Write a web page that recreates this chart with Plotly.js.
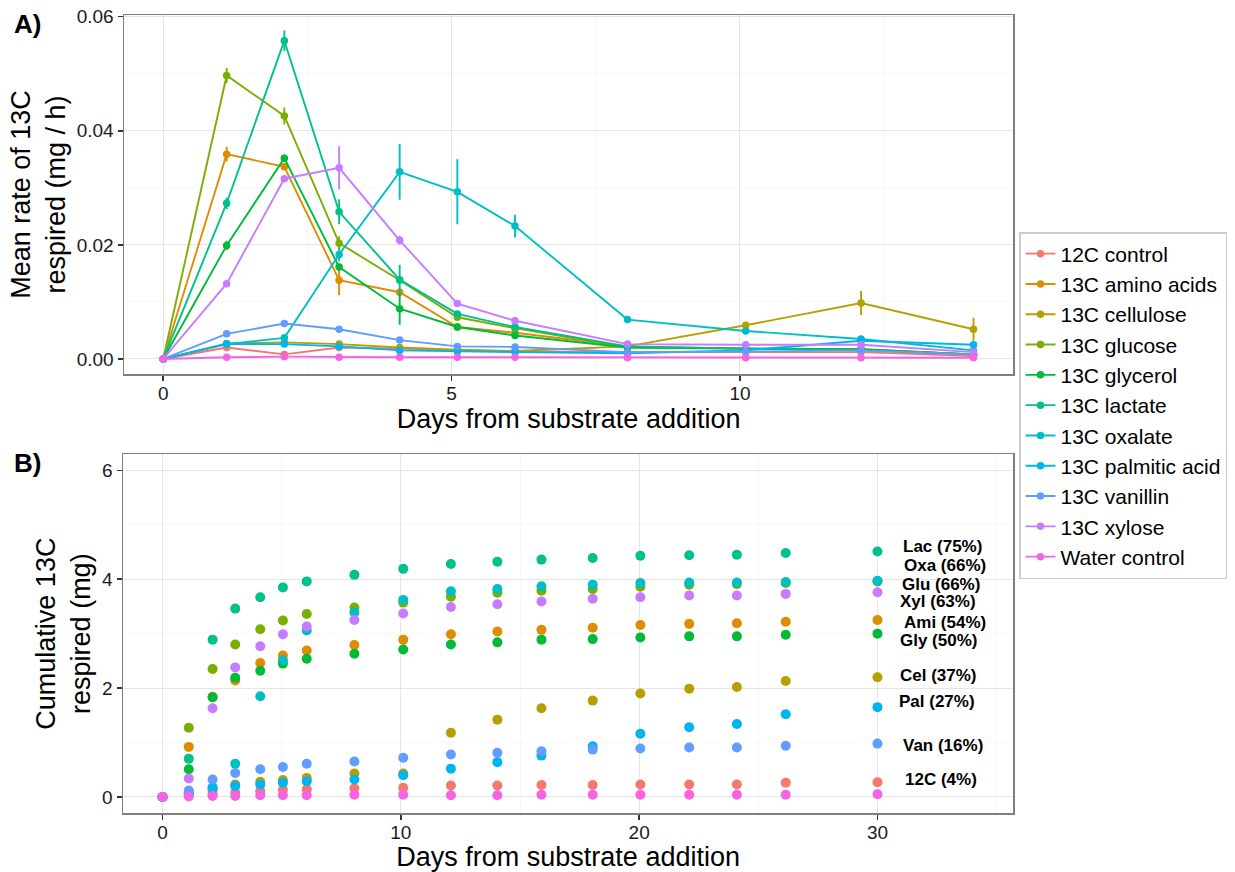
<!DOCTYPE html>
<html>
<head>
<meta charset="utf-8">
<script src="https://cdn.plot.ly/plotly-3.0.1.min.js"></script>
<style>html,body{margin:0;padding:0;background:#fff;}#chart{width:1235px;height:872px;}</style>
</head>
<body>
<div id="chart"></div>
<script>
// ---------- Data ----------
const seriesNames = ["12C control","13C amino acids","13C cellulose","13C glucose","13C glycerol","13C lactate","13C oxalate","13C palmitic acid","13C vanillin","13C xylose","Water control"];
const seriesColors = ["#F8766D","#DE8C00","#B79F00","#7CAE00","#00BA38","#00C08B","#00BFC4","#00B4F0","#619CFF","#C77CFF","#F564E3"];

// Panel A: mean rate of 13C respired (mg / h)
const daysA = [0, 1.1, 2.1, 3.05, 4.1, 5.1, 6.1, 8.05, 10.1, 12.1, 14.05];
const rateControl12C = [0, 0.0020, 0.0008, 0.0020, 0.0018, 0.0015, 0.0013, 0.0012, 0.0012, 0.0012, 0.0005];
const rateAmino      = [0, 0.0359, 0.0337, 0.0138, 0.0117, 0.0056, 0.0046, 0.0022, 0.0018, 0.0017, 0.0008];
const rateCellulose  = [0, 0.0027, 0.0029, 0.0026, 0.0020, 0.0016, 0.0014, 0.0022, 0.0059, 0.0098, 0.0052];
const rateGlucose    = [0, 0.0497, 0.0426, 0.0203, 0.0138, 0.0073, 0.0054, 0.0020, 0.0018, 0.0016, 0.0008];
const rateGlycerol   = [0, 0.0199, 0.0352, 0.0161, 0.0088, 0.0056, 0.0041, 0.0020, 0.0018, 0.0017, 0.0008];
const rateLactate    = [0, 0.0273, 0.0558, 0.0258, 0.0139, 0.0079, 0.0056, 0.0022, 0.0018, 0.0015, 0.0008];
const rateOxalate    = [0, 0.0026, 0.0037, 0.0183, 0.0328, 0.0293, 0.0233, 0.0069, 0.0049, 0.0035, 0.0015];
const ratePalmitic   = [0, 0.0026, 0.0026, 0.0022, 0.0015, 0.0013, 0.0012, 0.0010, 0.0015, 0.0032, 0.0025];
const rateVanillin   = [0, 0.0044, 0.0062, 0.0052, 0.0033, 0.0022, 0.0021, 0.0012, 0.0013, 0.0015, 0.0008];
const rateXylose     = [0, 0.0132, 0.0316, 0.0335, 0.0208, 0.0097, 0.0067, 0.0026, 0.0025, 0.0025, 0.0012];
const rateWater      = [0, 0.0003, 0.0004, 0.0003, 0.0003, 0.0003, 0.0003, 0.0002, 0.0002, 0.0002, 0.0002];

const errControl12C = [0, 0.0004, 0.0003, 0.0003, 0.0003, 0.0002, 0.0002, 0.0002, 0.0002, 0.0002, 0.0002];
const errAmino      = [0, 0.0013, 0.0006, 0.0026, 0.0005, 0.0004, 0.0003, 0.0002, 0.0002, 0.0002, 0.0002];
const errCellulose  = [0, 0.0003, 0.0003, 0.0003, 0.0003, 0.0002, 0.0002, 0.0003, 0.0006, 0.0021, 0.0020];
const errGlucose    = [0, 0.0013, 0.0015, 0.0012, 0.0006, 0.0004, 0.0003, 0.0002, 0.0002, 0.0002, 0.0002];
const errGlycerol   = [0, 0.0008, 0.0006, 0.0006, 0.0028, 0.0004, 0.0003, 0.0002, 0.0002, 0.0002, 0.0002];
const errLactate    = [0, 0.0010, 0.0018, 0.0022, 0.0026, 0.0005, 0.0004, 0.0002, 0.0002, 0.0002, 0.0002];
const errOxalate    = [0, 0.0003, 0.0004, 0.0012, 0.0049, 0.0057, 0.0020, 0.0004, 0.0003, 0.0003, 0.0003];
const errPalmitic   = [0, 0.0003, 0.0003, 0.0003, 0.0003, 0.0002, 0.0002, 0.0002, 0.0003, 0.0003, 0.0005];
const errVanillin   = [0, 0.0004, 0.0004, 0.0003, 0.0005, 0.0003, 0.0002, 0.0002, 0.0002, 0.0002, 0.0002];
const errXylose     = [0, 0.0005, 0.0005, 0.0038, 0.0008, 0.0005, 0.0004, 0.0003, 0.0003, 0.0003, 0.0006];
const errWater      = [0, 0.0002, 0.0002, 0.0002, 0.0002, 0.0002, 0.0002, 0.0002, 0.0002, 0.0002, 0.0002];

// Panel B: cumulative 13C respired (mg)
const daysB = [0, 1.1, 2.1, 3.05, 4.1, 5.05, 6.05, 8.05, 10.1, 12.1, 14.05, 15.9, 18.05, 20.05, 22.1, 24.1, 26.15, 30];
const cumControl12C = [0, 0.03, 0.05, 0.08, 0.11, 0.13, 0.14, 0.16, 0.17, 0.21, 0.21, 0.22, 0.22, 0.23, 0.23, 0.23, 0.26, 0.27];
const cumAmino      = [0, 0.92, 1.84, 2.14, 2.46, 2.60, 2.69, 2.79, 2.89, 2.99, 3.04, 3.07, 3.11, 3.16, 3.18, 3.19, 3.22, 3.25];
const cumCellulose  = [0, 0.05, 0.12, 0.23, 0.28, 0.31, 0.35, 0.43, 0.43, 1.18, 1.42, 1.63, 1.77, 1.90, 1.99, 2.02, 2.13, 2.20];
const cumGlucose    = [0, 1.27, 2.35, 2.80, 3.08, 3.24, 3.36, 3.48, 3.57, 3.68, 3.75, 3.79, 3.82, 3.86, 3.90, 3.91, 3.93, 3.96];
const cumGlycerol   = [0, 0.51, 1.83, 2.19, 2.32, 2.45, 2.54, 2.63, 2.71, 2.80, 2.84, 2.89, 2.90, 2.93, 2.95, 2.95, 2.98, 3.00];
const cumLactate    = [0, 0.70, 2.89, 3.46, 3.67, 3.85, 3.96, 4.08, 4.19, 4.28, 4.32, 4.36, 4.39, 4.43, 4.44, 4.45, 4.48, 4.51];
const cumOxalate    = [0, 0.08, 0.18, 0.61, 1.85, 2.51, 3.06, 3.39, 3.62, 3.78, 3.82, 3.87, 3.90, 3.93, 3.94, 3.94, 3.95, 3.97];
const cumPalmitic   = [0, 0.08, 0.16, 0.20, 0.23, 0.26, 0.29, 0.32, 0.40, 0.52, 0.64, 0.76, 0.93, 1.16, 1.28, 1.34, 1.52, 1.65];
const cumVanillin   = [0, 0.12, 0.32, 0.44, 0.51, 0.55, 0.61, 0.65, 0.72, 0.78, 0.81, 0.84, 0.87, 0.89, 0.91, 0.91, 0.94, 0.98];
const cumXylose     = [0, 0.34, 1.63, 2.38, 2.77, 2.99, 3.13, 3.25, 3.37, 3.49, 3.54, 3.59, 3.64, 3.67, 3.70, 3.70, 3.73, 3.76];
const cumWater      = [0, 0.01, 0.02, 0.02, 0.03, 0.03, 0.03, 0.04, 0.04, 0.03, 0.03, 0.04, 0.04, 0.04, 0.04, 0.04, 0.04, 0.05];

// Panel B end labels
const endLabels = ["Lac (75%)","Oxa (66%)","Glu (66%)","Xyl (63%)","Ami (54%)","Gly (50%)","Cel (37%)","Pal (27%)","Van (16%)","12C (4%)"];
const endLabelX = [32.72, 32.83, 32.65, 32.55, 32.82, 32.57, 32.55, 32.50, 32.75, 32.66];
const endLabelY = [4.61, 4.26, 3.91, 3.59, 3.21, 2.87, 2.23, 1.75, 0.95, 0.32];

// ---------- Build traces ----------
const ratesA = [rateControl12C, rateAmino, rateCellulose, rateGlucose, rateGlycerol, rateLactate, rateOxalate, ratePalmitic, rateVanillin, rateXylose, rateWater];
const errsA  = [errControl12C, errAmino, errCellulose, errGlucose, errGlycerol, errLactate, errOxalate, errPalmitic, errVanillin, errXylose, errWater];
const cumsB  = [cumControl12C, cumAmino, cumCellulose, cumGlucose, cumGlycerol, cumLactate, cumOxalate, cumPalmitic, cumVanillin, cumXylose, cumWater];

const traces = [];
seriesNames.forEach((name, i) => {
  traces.push({
    type: 'scatter', mode: 'lines+markers', name: name,
    x: daysA, y: ratesA[i], xaxis: 'x', yaxis: 'y',
    line: {color: seriesColors[i], width: 1.9},
    marker: {color: seriesColors[i], size: 7.5},
    error_y: {type: 'data', array: errsA[i], visible: true, color: seriesColors[i], thickness: 1.9, width: 0},
    legendgroup: name, showlegend: true
  });
});
seriesNames.forEach((name, i) => {
  traces.push({
    type: 'scatter', mode: 'markers', name: name,
    x: daysB, y: cumsB[i], xaxis: 'x2', yaxis: 'y2',
    marker: {color: seriesColors[i], size: 10},
    legendgroup: name, showlegend: false
  });
});

const FONT = 'Liberation Sans, Arial, sans-serif';
const W = 1235, H = 872;
const axCommon = {
  showline: true, mirror: true, linecolor: '#7F7F7F', linewidth: 1.5,
  ticks: 'outside', ticklen: 5, tickwidth: 1.5, tickcolor: '#333333',
  gridcolor: '#E5E5E5', gridwidth: 1, zeroline: false,
  tickfont: {family: FONT, size: 19, color: '#1a1a1a'}
};

const annotations = endLabels.map((t, i) => ({
  text: t, x: endLabelX[i], y: endLabelY[i], xref: 'x2', yref: 'y2',
  showarrow: false, xanchor: 'center', yanchor: 'middle',
  font: {family: FONT, size: 17, color: '#000', weight: 'bold'}
}));
annotations.push({text: '<b>A)</b>', x: 27/W, y: 1 - 24/H, xref: 'paper', yref: 'paper', showarrow: false,
  xanchor: 'center', yanchor: 'middle', font: {family: FONT, size: 26, color: '#000'}});
annotations.push({text: '<b>B)</b>', x: 27.5/W, y: 1 - 463/H, xref: 'paper', yref: 'paper', showarrow: false,
  xanchor: 'center', yanchor: 'middle', font: {family: FONT, size: 26, color: '#000'}});

const layout = {
  width: W, height: H,
  margin: {l: 0, r: 0, t: 0, b: 0},
  paper_bgcolor: '#fff', plot_bgcolor: '#fff',
  font: {family: FONT, color: '#000'},
  xaxis: Object.assign({}, axCommon, {
    domain: [124/W, 1013.3/W], anchor: 'y', range: [-0.68, 14.74],
    tick0: 0, dtick: 5, ticklabelstandoff: -3,
    minor: {dtick: 2.5, tick0: 0, showgrid: true, gridcolor: '#F7F7F7', ticks: ''},
    title: {text: 'Days from substrate addition', font: {family: FONT, size: 27, color: '#000'}, standoff: 5}
  }),
  yaxis: Object.assign({}, axCommon, {
    domain: [1 - 374/H, 1 - 15/H], anchor: 'x', range: [-0.00264, 0.0603],
    tick0: 0, dtick: 0.02, tickformat: '.2f',
    minor: {dtick: 0.01, tick0: 0, showgrid: true, gridcolor: '#F7F7F7', ticks: ''},
    title: {text: 'Mean rate of 13C<br>respired (mg / h)', font: {family: FONT, size: 27, color: '#000'}, standoff: 3}
  }),
  xaxis2: Object.assign({}, axCommon, {
    domain: [123/W, 1013.3/W], anchor: 'y2', range: [-1.66, 35.7],
    tick0: 0, dtick: 10, ticklabelstandoff: -4,
    minor: {dtick: 5, tick0: 0, showgrid: true, gridcolor: '#F7F7F7', ticks: ''},
    title: {text: 'Days from substrate addition', font: {family: FONT, size: 27, color: '#000'}, standoff: 9}
  }),
  yaxis2: Object.assign({}, axCommon, {
    domain: [1 - 813.3/H, 1 - 454/H], anchor: 'x2', range: [-0.3, 6.3],
    tick0: 0, dtick: 2,
    minor: {dtick: 1, tick0: 0, showgrid: true, gridcolor: '#F7F7F7', ticks: ''},
    title: {text: 'Cumulative 13C<br>respired (mg)', font: {family: FONT, size: 27, color: '#000'}, standoff: 3}
  }),
  showlegend: true,
  legend: {
    x: 1019/W, y: 1 - 232/H, xanchor: 'left', yanchor: 'top',
    bordercolor: '#CCCCCC', borderwidth: 1.5, bgcolor: '#fff',
    font: {family: FONT, size: 21, color: '#000'},
    itemwidth: 30, tracegroupgap: 0
  },
  annotations: annotations
};

Plotly.newPlot('chart', traces, layout, {staticPlot: true, displayModeBar: false});
</script>
</body>
</html>
